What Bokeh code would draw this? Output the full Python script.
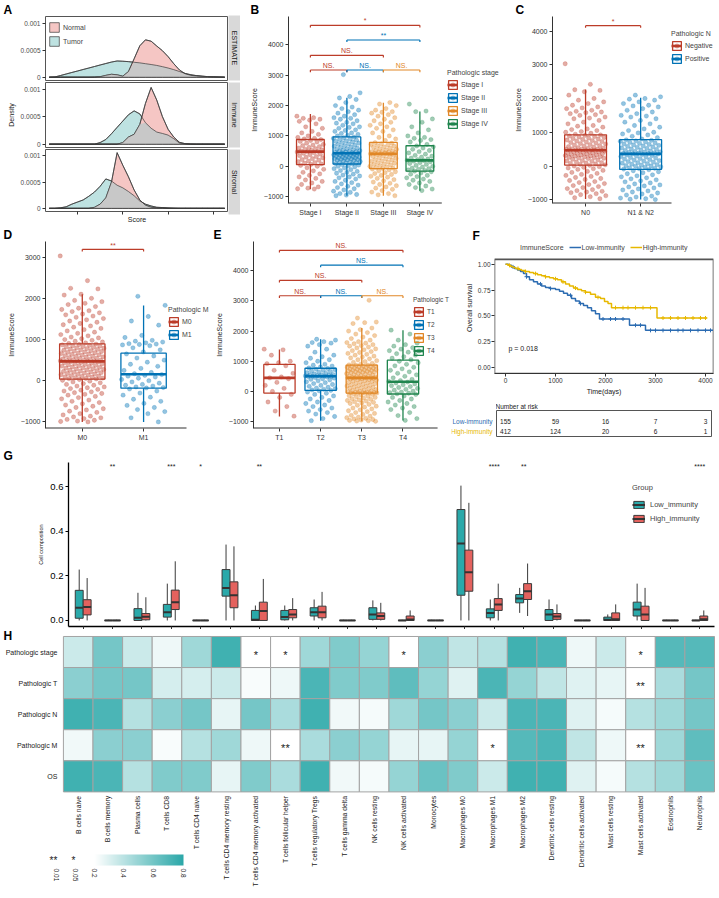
import math
import numpy as np
from bokeh.plotting import figure
from bokeh.models import (ColumnDataSource, Legend, LegendItem, LinearColorMapper, ColorBar,
                          FixedTicker, Range1d, FactorRange, NumeralTickFormatter, Title)
from bokeh.layouts import row, column
from bokeh.transform import dodge
from bokeh.core.properties import value
from bokeh.embed import file_html
from bokeh.resources import INLINE

# ======================= DATA =======================
# ---- A: density of scores (density given in units of 1e-4)
A_SCORE = [-3250, -3000, -2750, -2500, -2250, -2000, -1750, -1500, -1250, -1000, -750, -500,
           -250, 0, 250, 500, 750, 1000, 1250, 1500, 1750, 2000, 2250, 2500, 2750, 3000,
           3250, 3500, 3750, 4000, 4250, 4500]
A_FACETS = ["ESTIMATE", "Immune", "Stromal"]
A_EST_TUMOR = [0, 0.05, 0.32, 0.6, 0.88, 1.15, 1.43, 1.7, 1.98, 2.26, 2.53, 2.8, 3.0, 2.95, 2.88,
               2.76, 2.65, 2.5, 2.35, 2.18, 1.95, 1.7, 1.4, 1.06, 0.7, 0.47, 0.3, 0.18, 0.12, 0.06, 0.03, 0]
A_EST_NORMAL = [0, 0, 0, 0, 0, 0, 0, 0, 0.02, 0.1, 0.35, 0.55, 0.45, 0.2, 1.05, 3.4, 5.8, 6.9, 6.65,
                5.75, 4.9, 3.8, 2.5, 1.35, 0.65, 0.35, 0.24, 0.18, 0.12, 0.06, 0.03, 0]
A_IMM_TUMOR = [0, 0, 0, 0, 0, 0, 0, 0, 0, 0.3, 0.85, 1.9, 3.06, 4.2, 5.35, 6.05, 5.5, 3.9, 2.9, 2.2,
               1.95, 1.65, 1.0, 0.2, 0.05, 0, 0, 0, 0, 0, 0, 0]
A_IMM_NORMAL = [0, 0, 0, 0, 0, 0, 0, 0, 0, 0, 0, 0, 0, 0.3, 1.3, 1.8, 3.6, 7.4, 10.3, 8.0, 5.0, 2.7,
                1.3, 0.35, 0.1, 0.03, 0, 0, 0, 0, 0, 0]
A_STR_TUMOR = [0, 0, 0.1, 0.3, 0.8, 1.2, 1.6, 2.3, 3.1, 4.2, 5.6, 5.2, 4.4, 3.9, 3.2, 2.4, 1.4, 0.8,
               0.45, 0.2, 0.15, 0.08, 0.03, 0, 0, 0, 0, 0, 0, 0, 0, 0]
A_STR_NORMAL = [0, 0, 0, 0, 0, 0, 0, 0, 0.2, 0.8, 2.0, 5.0, 10.6, 8.2, 6.0, 3.5, 1.6, 0.6, 0.2, 0.1,
                0.05, 0, 0, 0, 0, 0, 0, 0, 0, 0, 0, 0]
A_XTICKS = [-2000, 0, 2000, 4000]

NEJM = ["#BC3C29", "#0072B5", "#E18727", "#20854E"]

# ---- B: ImmuneScore by pathologic stage
B_GROUPS = ["Stage I", "Stage II", "Stage III", "Stage IV"]
B_Q1 = [54, 75, -75, -161]
B_MED = [484, 430, 409, 194]
B_Q3 = [882, 968, 785, 677]
B_LO = [-753, -968, -968, -806]
B_HI = [1720, 2258, 2097, 1806]
B_PTS = [
    [1650, 1600, 1580, 1550, 1520, 1480, 1400, 1300, 1250, 1150, 1100, 1050, 1000, 950, 920, 900, 880,
     850, 820, 800, 760, 720, 700, 680, 650, 620, 600, 580, 560, 540, 520, 500, 490, 480, 470, 450, 430,
     400, 380, 350, 320, 300, 280, 250, 220, 200, 170, 150, 120, 100, 80, 60, 30, 0, -50, -100, -150,
     -200, -250, -300, -350, -400, -450, -500, -550, -600, -680, -720, -740, -750],
    [3020, 2420, 2300, 2250, 2200, 2100, 2000, 1950, 1900, 1850, 1800, 1750, 1700, 1650, 1600, 1580,
     1550, 1500, 1450, 1420, 1400, 1350, 1300, 1280, 1250, 1200, 1180, 1150, 1100, 1080, 1050, 1020, 1000,
     960, 940, 920, 900, 880, 860, 840, 820, 800, 780, 760, 740, 720, 700, 680, 660, 640, 620, 600, 580,
     560, 545, 530, 515, 500, 490, 480, 470, 460, 450, 440, 430,
     420, 410, 400, 390, 380, 370, 360, 350, 340, 330, 320, 310, 300, 290, 280, 270, 260, 250, 240, 230,
     220, 210, 200, 190, 180, 160, 140, 130, 120, 110, 90, 80,
     60, 40, 20, 0, -20, -50, -80, -110, -140, -170, -200, -230, -260, -290, -320, -350, -380, -420,
     -460, -500, -540, -580, -620, -660, -700, -740, -780, -820, -860, -900, -930, -950, -970],
    [2100, 2050, 2000, 1900, 1850, 1800, 1780, 1750, 1700, 1650, 1600, 1550, 1500, 1450, 1400, 1350,
     1300, 1250, 1200, 1150, 1100, 1000, 950, 900, 850,
     780, 760, 740, 720, 700, 680, 660, 640, 620, 600, 580, 560, 540, 520, 500, 490, 480, 470, 460, 450,
     440, 430, 420, 415, 410,
     400, 380, 360, 340, 320, 300, 280, 260, 240, 220, 200, 180, 160, 140, 120, 100, 80, 60, 40, 20, 0,
     -20, -40, -60, -70,
     -90, -120, -150, -180, -210, -240, -270, -300, -330, -360, -400, -440, -480, -520, -560, -600, -640,
     -680, -720, -760, -800, -850, -900, -940, -970],
    [2050, 1820, 1800, 1560, 1450, 1300, 1200, 1100, 1000, 950, 920, 880, 850, 800, 720,
     670, 640, 600, 560, 520, 480, 440, 400, 360, 330, 300, 270, 240, 220, 200,
     190, 170, 150, 120, 90, 60, 30, 0, -30, -60, -80, -100, -120, -140, -160,
     -180, -220, -260, -300, -340, -380, -420, -460, -500, -550, -600, -650, -700, -750, -800],
]
B_SIG_FROM = [1, 2, 1, 1, 2, 3]
B_SIG_TO = [4, 4, 3, 2, 3, 4]
B_SIG_Y = [4645, 4161, 3656, 3172, 3172, 3172]
B_SIG_LABEL = ["*", "**", "NS.", "NS.", "NS.", "NS."]
B_YTICKS = [-1000, 0, 1000, 2000, 3000, 4000]

# ---- C: ImmuneScore by pathologic N
C_GROUPS = ["N0", "N1 & N2"]
C_LEGEND = ["Negative", "Positive"]
C_Q1 = [29, -97]
C_MED = [467, 360]
C_Q3 = [925, 779]
C_LO = [-974, -993]
C_HI = [2269, 2025]
C_PTS = [
    [3030, 2420, 2260, 2240, 2200, 2100, 2000, 1950, 1900, 1850, 1800, 1750, 1720, 1700, 1650, 1620, 1600,
     1580, 1550, 1520, 1500, 1450, 1420, 1400, 1350, 1300, 1250, 1200, 1180, 1150, 1100, 1080, 1050, 1020,
     1000, 970, 940,
     920, 905, 890, 875, 860, 845, 830, 815, 800, 785, 770, 755, 740, 725, 710, 695, 680, 665, 650, 635,
     620, 605, 590, 575, 560, 545, 530, 520, 510, 500, 495, 490, 485, 480, 475, 470, 465,
     460, 450, 440, 430, 420, 410, 400, 390, 380, 370, 360, 350, 340, 330, 320, 310, 300, 290, 280, 270,
     260, 250, 240, 230, 220, 200, 180, 160, 150, 140, 120, 100, 90, 80, 60, 50, 35,
     20, 0, -20, -40, -60, -80, -100, -130, -160, -190, -220, -250, -280, -310, -340, -370, -400, -430,
     -460, -490, -520, -550, -580, -610, -640, -670, -700, -730, -750, -770, -790, -820, -850, -880,
     -910, -940, -970],
    [2100, 2050, 2000, 1980, 1950, 1900, 1850, 1800, 1780, 1750, 1700, 1650, 1600, 1550, 1500, 1480,
     1450, 1400, 1350, 1300, 1250, 1200, 1150, 1100, 1050, 1000, 980, 950, 920, 880, 840, 800,
     775, 760, 745, 730, 715, 700, 685, 670, 655, 640, 625, 610, 595, 580, 565, 550, 535, 520, 505, 490,
     475, 460, 445, 430, 420, 410, 400, 390, 380, 375, 370, 365,
     355, 340, 325, 310, 295, 280, 265, 250, 235, 220, 205, 190, 175, 160, 145, 130, 115, 100, 85, 70,
     55, 40, 25, 10, 0, -10, -25, -40, -55, -70, -80, -90,
     -110, -140, -170, -200, -230, -260, -290, -320, -350, -380, -410, -440, -470, -500, -530, -560,
     -590, -620, -650, -680, -710, -740, -770, -800, -830, -860, -890, -920, -950, -970, -985, -995],
]
C_SIG_FROM = [1]
C_SIG_TO = [2]
C_SIG_Y = [4158]
C_SIG_LABEL = ["*"]
C_YTICKS = [-1000, 0, 1000, 2000, 3000, 4000]

# ---- D: ImmuneScore by pathologic M
D_GROUPS = ["M0", "M1"]
D_Q1 = [40, -181]
D_MED = [470, 157]
D_Q3 = [895, 670]
D_LO = [-1000, -1000]
D_HI = [2102, 1827]
D_PTS = [
    [3030, 2430, 2245, 2230, 2100, 2080, 2000, 1950, 1920, 1880, 1850, 1800, 1760, 1730, 1700, 1680,
     1650, 1620, 1600, 1570, 1540, 1510, 1480, 1450, 1420, 1390, 1360, 1330, 1300, 1270, 1240, 1210,
     1180, 1150, 1120, 1090, 1060, 1040, 1020, 1000, 980, 960, 940, 920, 905,
     890, 880, 870, 860, 850, 840, 830, 820, 810, 800, 790, 780, 770, 760, 750, 740, 730, 720, 710, 700,
     690, 680, 670, 660, 650, 640, 630, 620, 610, 600, 590, 580, 570, 560, 550, 540, 530, 520, 510, 500,
     495, 490, 487, 484, 481,
     475, 465, 455, 445, 435, 425, 415, 405, 395, 385, 375, 365, 355, 345, 335, 325, 315, 305, 295, 285,
     275, 265, 255, 245, 235, 225, 215, 205, 195, 185, 175, 165, 155, 145, 135, 125, 115, 105, 95, 85,
     75, 65, 55, 50, 45,
     30, 10, -10, -30, -50, -70, -90, -110, -130, -150, -170, -190, -210, -230, -250, -270, -290, -310,
     -330, -350, -380, -410, -440, -470, -500, -530, -560, -590, -620, -650, -680, -710, -740, -770,
     -800, -830, -860, -880, -900, -920, -940, -960, -980, -990, -1000],
    [2050, 1830, 1560, 1450, 1350, 1100, 1050, 980, 960, 940, 920, 900, 890, 880, 870,
     850, 800, 750, 700, 650, 600, 550, 500, 450, 400, 350, 300, 250, 200, 170,
     150, 130, 110, 90, 60, 30, 0, -30, -60, -90, -110, -130, -150, -165, -175,
     -200, -250, -300, -350, -400, -450, -500, -550, -600, -650, -700, -750, -800, -900, -1000],
]
D_SIG_FROM = [1]
D_SIG_TO = [2]
D_SIG_Y = [3190]
D_SIG_LABEL = ["**"]
D_YTICKS = [-1000, 0, 1000, 2000, 3000]

# ---- E: ImmuneScore by pathologic T
E_GROUPS = ["T1", "T2", "T3", "T4"]
E_Q1 = [-53, 32, -53, -85]
E_MED = [448, 502, 448, 320]
E_Q3 = [896, 768, 875, 1035]
E_LO = [-830, -970, -990, -960]
E_HI = [1387, 1729, 2102, 2028]
E_PTS = [
    [1400, 1380, 1200, 1000, 950, 920, 850, 700, 600, 480, 450, 420, 300, 200, 100, 0, -100, -200, -350,
     -500, -650, -820],
    [1730, 1700, 1650, 1620, 1600, 1550, 1500, 1400, 1300, 1200, 1150, 1100, 1050, 1000, 950, 900, 870,
     840, 810, 780,
     760, 740, 720, 700, 680, 660, 640, 620, 600, 580, 560, 550, 540, 530, 520, 515, 510, 507, 504, 502,
     495, 480, 460, 440, 420, 400, 380, 350, 320, 290, 260, 230, 200, 170, 140, 110, 90, 70, 50, 35,
     20, -20, -60, -100, -150, -200, -250, -300, -350, -400, -450, -500, -550, -600, -650, -700, -750,
     -830, -900, -970],
    [3020, 2430, 2300, 2280, 2250, 2100, 2050, 2000, 1950, 1900, 1850, 1800, 1750, 1700, 1650, 1620,
     1600, 1580, 1550, 1520, 1500, 1470, 1440, 1410, 1380, 1350, 1320, 1290, 1260, 1230, 1200, 1170,
     1140, 1110, 1080, 1050, 1020, 990, 960, 930, 900, 880,
     870, 860, 850, 840, 830, 820, 810, 800, 790, 780, 770, 760, 750, 740, 730, 720, 710, 700, 690, 680,
     670, 660, 650, 640, 630, 620, 610, 600, 590, 575, 560, 545, 530, 515, 500, 490, 480, 470, 462, 456,
     452, 449,
     445, 435, 425, 415, 405, 395, 385, 375, 360, 345, 330, 315, 300, 285, 270, 255, 240, 225, 210, 195,
     180, 165, 150, 135, 120, 105, 90, 75, 60, 45, 30, 15, 0, -10, -20, -30, -35, -40, -45, -48, -50, -52,
     -60, -80, -100, -120, -140, -160, -180, -200, -220, -240, -260, -280, -300, -320, -340, -360, -380,
     -400, -430, -460, -490, -520, -550, -580, -610, -640, -670, -700, -730, -760, -790, -820, -850,
     -870, -890, -910, -930, -950, -960, -970, -980, -990],
    [2030, 1900, 1700, 1600, 1550, 1500, 1450, 1400, 1350, 1300, 1250, 1200, 1150, 1100, 1050,
     1000, 950, 900, 850, 800, 750, 700, 650, 600, 550, 500, 450, 400, 360, 330,
     310, 280, 250, 220, 190, 160, 130, 100, 70, 40, 10, -20, -40, -60, -80,
     -100, -150, -200, -250, -300, -350, -400, -450, -500, -550, -600, -700, -800, -900, -960],
]
E_SIG_FROM = [1, 2, 1, 1, 2, 3]
E_SIG_TO = [4, 4, 3, 2, 3, 4]
E_SIG_Y = [4675, 4184, 3682, 3170, 3170, 3170]
E_SIG_LABEL = ["NS.", "NS.", "NS.", "NS.", "NS.", "NS."]
E_YTICKS = [-1000, 0, 1000, 2000, 3000, 4000]

# ---- F: Kaplan-Meier
KM_GROUPS = ["Low-immunity", "High-immunity"]
KM_COLORS = ["#2C6CB2", "#E7B800"]
KM_LOW_T = [0, 60, 120, 180, 240, 300, 360, 420, 480, 560, 640, 720, 800, 900, 1000, 1080, 1160, 1240,
            1320, 1400, 1480, 1560, 1640, 1720, 1800, 1880, 2480, 2800]
KM_LOW_S = [1.0, 0.99, 0.975, 0.96, 0.945, 0.93, 0.91, 0.88, 0.85, 0.83, 0.81, 0.79, 0.775, 0.765,
            0.755, 0.74, 0.72, 0.70, 0.67, 0.645, 0.62, 0.60, 0.58, 0.55, 0.52, 0.47, 0.41, 0.36]
KM_LOW_END = 4150
KM_LOW_CENSOR = [150, 420, 700, 900, 1300, 1500, 1950, 2100, 2200, 2350, 2600, 2700, 2900, 3000, 3150,
                 3300, 3450, 3550, 3700, 3850, 4000, 4100]
KM_HIGH_T = [0, 50, 100, 150, 200, 260, 320, 400, 480, 560, 640, 720, 800, 880, 960, 1040, 1120, 1200,
             1280, 1360, 1440, 1520, 1600, 1700, 1800, 1900, 1980, 2050, 2120, 3030]
KM_HIGH_S = [1.0, 0.99, 0.98, 0.97, 0.96, 0.95, 0.94, 0.93, 0.92, 0.91, 0.90, 0.89, 0.88, 0.87, 0.86,
             0.85, 0.83, 0.81, 0.79, 0.77, 0.755, 0.745, 0.73, 0.71, 0.68, 0.67, 0.64, 0.62, 0.58, 0.48]
KM_HIGH_END = 4030
KM_HIGH_CENSOR = [80, 250, 400, 600, 800, 1000, 1150, 1400, 1600, 1850, 2200, 2350, 2450, 2600, 2750,
                  2900, 3150, 3300, 3450, 3600, 3750, 3900, 4000]
KM_PVALUE = "p = 0.018"
KM_X = (-220, 4160)
KM_Y = (-0.058, 1.048)
RISK_TIMES = [0, 1000, 2000, 3000, 4000]
RISK_LOW = [155, 59, 16, 7, 3]
RISK_HIGH = [412, 124, 20, 6, 1]

# ---- G: immune cell composition
CELLS = ["B cells naive", "B cells memory", "Plasma cells", "T cells CD8", "T cells CD4 naive",
         "T cells CD4 memory resting", "T cells CD4 memory activated", "T cells follicular helper",
         "T cells regulatory Tregs", "T cells gamma delta", "NK cells resting", "NK cells activated",
         "Monocytes", "Macrophages M0", "Macrophages M1", "Macrophages M2", "Dendritic cells resting",
         "Dendritic cells activated", "Mast cells resting", "Mast cells activated", "Eosinophils",
         "Neutrophils"]
G_LOW_LO = [0, 0, 0, 0, 0, 0, 0, 0, 0, 0, 0, 0, 0, 0, 0, 0.034, 0, 0, 0, 0, 0, 0]
G_LOW_Q1 = [0.01, 0, 0, 0.015, 0, 0.109, 0, 0.003, 0.02, 0, 0.005, 0, 0, 0.113, 0.012, 0.079, 0, 0, 0, 0.02, 0, 0]
G_LOW_MED = [0.057, 0, 0.012, 0.037, 0, 0.146, 0.003, 0.015, 0.037, 0, 0.027, 0, 0, 0.345, 0.034, 0.098, 0.027, 0, 0.003, 0.049, 0, 0]
G_LOW_Q3 = [0.135, 0.001, 0.053, 0.072, 0.001, 0.228, 0.045, 0.045, 0.057, 0.001, 0.057, 0.001, 0.001, 0.497, 0.052, 0.116, 0.049, 0.001, 0.015, 0.082, 0.001, 0.001]
G_LOW_HI = [0.228, 0.003, 0.124, 0.165, 0.003, 0.34, 0.067, 0.067, 0.094, 0.003, 0.09, 0.003, 0.003, 0.604, 0.094, 0.146, 0.094, 0.003, 0.027, 0.165, 0.003, 0.003]
G_HIGH_LO = [0, 0, 0, 0, 0, 0, 0, 0, 0, 0, 0, 0, 0, 0, 0, 0.02, 0, 0, 0, 0, 0, 0]
G_HIGH_Q1 = [0.025, 0, 0.003, 0.049, 0, 0.057, 0, 0.012, 0.012, 0, 0.005, 0, 0, 0.131, 0.045, 0.094, 0.005, 0, 0, 0, 0, 0]
G_HIGH_MED = [0.06, 0, 0.017, 0.082, 0, 0.113, 0.042, 0.027, 0.037, 0, 0.02, 0.004, 0, 0.216, 0.072, 0.131, 0.018, 0, 0.005, 0.027, 0, 0.005]
G_HIGH_Q3 = [0.093, 0.001, 0.031, 0.136, 0.001, 0.173, 0.082, 0.049, 0.064, 0.001, 0.034, 0.02, 0.001, 0.315, 0.098, 0.165, 0.031, 0.001, 0.034, 0.064, 0.001, 0.02]
G_HIGH_HI = [0.19, 0.003, 0.104, 0.265, 0.003, 0.332, 0.186, 0.1, 0.128, 0.003, 0.079, 0.045, 0.003, 0.527, 0.165, 0.255, 0.072, 0.003, 0.072, 0.146, 0.003, 0.045]
G_SIG = ["", "**", "", "***", "*", "", "**", "", "", "", "", "", "", "", "****", "**", "", "", "", "", "", "****"]
G_YTICKS = [0.0, 0.2, 0.4, 0.6]

# ---- H: heatmap of p-values
H_ROWS = ["Pathologic stage", "Pathologic T", "Pathologic N", "Pathologic M", "OS"]
H_VALUES = [
    [0.35, 0.59, 0.35, 0.25, 0.47, 0.74, 0.03, 0.04, 0.47, 0.56, 0.50, 0.04, 0.53, 0.38, 0.41, 0.74, 0.71, 0.25, 0.35, 0.02, 0.68, 0.68],
    [0.53, 0.59, 0.59, 0.32, 0.32, 0.35, 0.22, 0.25, 0.71, 0.56, 0.56, 0.65, 0.50, 0.29, 0.71, 0.50, 0.38, 0.29, 0.27, 0.007, 0.44, 0.59],
    [0.74, 0.71, 0.41, 0.53, 0.59, 0.27, 0.59, 0.44, 0.74, 0.24, 0.23, 0.47, 0.59, 0.53, 0.35, 0.71, 0.71, 0.29, 0.23, 0.41, 0.47, 0.59],
    [0.24, 0.53, 0.53, 0.22, 0.41, 0.47, 0.25, 0.006, 0.44, 0.53, 0.50, 0.27, 0.27, 0.50, 0.03, 0.68, 0.71, 0.38, 0.25, 0.008, 0.47, 0.65],
    [0.74, 0.71, 0.41, 0.56, 0.56, 0.27, 0.56, 0.44, 0.74, 0.24, 0.23, 0.50, 0.62, 0.56, 0.35, 0.74, 0.74, 0.29, 0.23, 0.41, 0.47, 0.62],
]
H_CB_TICKS = [0.2, 0.4, 0.6, 0.8]
H_STAR_KEYS = ["**", "*"]
H_STAR_LEVELS = ["0.01", "0.05"]

# ======================= LAYOUT HELPERS =======================
FONT = "Liberation Sans"
RW, RH, W, H = 719, 898, 718, 896


def sx(v):
    return int(round(v * W / RW))


def sy(v):
    return int(round(v * H / RH))


FRAMES = {}


def make_fig(box, frame, **kw):
    x0, y0, x1, y1 = box
    fx0, fy0, fx1, fy1 = frame
    p = figure(width=sx(x1) - sx(x0), height=sy(y1) - sy(y0),
               min_border_left=sx(fx0) - sx(x0), min_border_right=sx(x1) - sx(fx1),
               min_border_top=sy(fy0) - sy(y0), min_border_bottom=sy(y1) - sy(fy1),
               output_backend="svg", toolbar_location=None, frame_align=False, **kw)
    p.xgrid.visible = False
    p.ygrid.visible = False
    p.outline_line_color = None
    p.background_fill_color = "white"
    p.border_fill_color = "white"
    FRAMES[p.id] = frame
    return p


def fpos(p, rx, ry):
    fx0, fy0, fx1, fy1 = FRAMES[p.id]
    return (sx(rx) - sx(fx0), sy(fy1) - sy(ry))


def style_axes(p, tick_size="7px", label_size="7px", tick_color="#333333"):
    for ax in p.axis:
        ax.major_label_text_font = FONT
        ax.major_label_text_font_size = tick_size
        ax.major_label_text_color = tick_color
        ax.axis_label_text_font = FONT
        ax.axis_label_text_font_size = label_size
        ax.axis_label_text_font_style = "normal"
        ax.axis_label_text_color = "#1a1a1a"
        ax.minor_tick_line_color = None
        ax.major_tick_in = 0
        ax.major_tick_out = 3
        ax.major_label_standoff = 2
        ax.axis_label_standoff = 3
        ax.axis_line_color = "#333333"
        ax.major_tick_line_color = "#333333"


def hide_tick_labels(ax):
    ax.major_label_text_color = None
    ax.major_label_text_font_size = "1px"
    ax.major_label_standoff = 0


def legend_style(leg, size="7px", gw=12, gh=10):
    leg.label_text_font = FONT
    leg.label_text_font_size = size
    leg.title_text_font = FONT
    leg.title_text_font_size = size
    leg.title_text_font_style = "normal"
    leg.border_line_color = None
    leg.background_fill_alpha = 0
    leg.padding = 0
    leg.margin = 0
    leg.spacing = 2
    leg.glyph_width = gw
    leg.glyph_height = gh
    leg.label_height = gh
    leg.label_standoff = 3
    leg.title_standoff = 3


def letter(p, rx, t):
    fx0 = FRAMES[p.id][0]
    p.add_layout(Title(text=t, align="left", offset=sx(rx) - sx(fx0), text_font=FONT,
                       text_font_size="12px", text_font_style="bold", text_color="#000000",
                       standoff=0), "above")


def minus(t):
    return ("\u2212%d" % -t) if t < 0 else str(t)


# ======================= PANEL A =======================
NORMAL_FILL, TUMOR_FILL, OVER_FILL = "#F5C6C4", "#BEE2E1", "#C8C8C8"
A_BOX = [(0, 0, 228, 81), (0, 81, 228, 148), (0, 148, 228, 226)]
A_FRAME = [(45, 15, 228, 80), (45, 82, 228, 147), (45, 149, 228, 214)]
A_DENS = [(A_EST_NORMAL, A_EST_TUMOR), (A_IMM_NORMAL, A_IMM_TUMOR), (A_STR_NORMAL, A_STR_TUMOR)]
xs = np.array(A_SCORE, dtype=float)
polyx = np.concatenate([xs, xs[::-1]])
a_rows = []
for k, name in enumerate(A_FACETS):
    last = (k == 2)
    p = make_fig(A_BOX[k], A_FRAME[k], x_range=Range1d(-3413, 4667),
                 y_range=Range1d(-0.00006, 0.00112),
                 x_axis_location="below" if last else None)
    style_axes(p, tick_size="6.5px", tick_color="#4d4d4d")
    p.outline_line_color = "#555555"
    dn = np.array(A_DENS[k][0]) * 1e-4
    dt = np.array(A_DENS[k][1]) * 1e-4
    ov = np.minimum(dn, dt)
    zero = np.zeros_like(xs)
    rt = p.patch(polyx, np.concatenate([dt, zero]), fill_color=TUMOR_FILL, line_color="#3a3a3a",
                 line_width=0.7)
    rn = p.patch(polyx, np.concatenate([dn, zero]), fill_color=NORMAL_FILL, line_color="#3a3a3a",
                 line_width=0.7)
    p.patch(polyx, np.concatenate([ov, zero]), fill_color=OVER_FILL, line_color=None)
    p.line(xs, dt, line_color="#3a3a3a", line_width=0.7)
    p.line(xs, dn, line_color="#3a3a3a", line_width=0.7)
    p.line(xs, zero, line_color="#3a3a3a", line_width=0.7)
    p.yaxis.ticker = FixedTicker(ticks=[0, 0.0005, 0.001])
    p.yaxis.major_label_overrides = {0: "0", 0.0005: "0.0005", 0.001: "0.001"}
    p.yaxis.axis_line_color = None
    p.yaxis.axis_label = "Density" if k == 1 else ""
    if last:
        p.xaxis.ticker = FixedTicker(ticks=A_XTICKS)
        hide_tick_labels(p.xaxis[0])
        p.xaxis.axis_label_standoff = 1
        p.xaxis.axis_line_color = None
        p.xaxis.axis_label = "Score"
    if k == 0:
        leg = Legend(items=[LegendItem(label="Normal", renderers=[rn]),
                            LegendItem(label="Tumor", renderers=[rt])],
                     location=fpos(p, 48, 47))
        legend_style(leg, gw=12, gh=12)
        p.add_layout(leg)
        letter(p, 3, "A")
    fx0, fy0, fx1, fy1 = A_FRAME[k]
    bx0, by0, bx1, by1 = A_BOX[k]
    s = make_fig((228, by0, 240, by1), (228, fy0, 240, fy1), x_range=Range1d(0, 1),
                 y_range=Range1d(0, 1), x_axis_location=None, y_axis_location=None)
    s.background_fill_color = "#D9D9D9"
    s.text(x=[0.5], y=[0.5], text=[name], angle=-math.pi / 2, text_align="center",
           text_baseline="middle", text_font=value(FONT), text_font_size="7px", text_color="#1a1a1a")
    a_rows.append(row(p, s))
panel_a = column(*a_rows)


# ======================= BOX PANELS (B, C, D, E) =======================
def box_panel(box, frame, axis_end, xr, yr, yticks, groups, leg_labels, colors, q1, med, q3, lo, hi,
              pts, box_w, jit_w, sig, tip, leg_title, leg_pos, let, let_x, leg_size="7px"):
    # the frame is widened to the right so that the legend lies inside it;
    # the x axis line is drawn only up to axis_end (ref px), as in the original panel.
    fx0, fy0, fx1, fy1 = frame
    per_px = (xr[1] - xr[0]) / (axis_end - fx0)
    xr_ext = (xr[0], xr[1] + (fx1 - axis_end) * per_px)
    p = make_fig(box, frame, x_range=Range1d(*xr_ext), y_range=Range1d(*yr))
    style_axes(p)
    p.xaxis.axis_line_color = None
    p.segment(x0=[xr[0]], y0=[yr[0]], x1=[xr[1]], y1=[yr[0]], line_color="#333333", line_width=2)
    items = []
    for i, g in enumerate(groups):
        xc = i + 1
        c = colors[i]
        vals = pts[i]
        offs = [(((k * 0.6180339887 + 0.37 * i) % 1.0) - 0.5) * jit_w for k in range(len(vals))]
        p.segment(x0=[xc, xc], y0=[q3[i], q1[i]], x1=[xc, xc], y1=[hi[i], lo[i]], line_color=c,
                  line_width=1.3)
        br = p.vbar(x=[xc], top=[q3[i]], bottom=[q1[i]], width=box_w, fill_alpha=0, line_color=c,
                    line_width=1.3)
        mr = p.segment(x0=[xc - box_w / 2], y0=[med[i]], x1=[xc + box_w / 2], y1=[med[i]],
                       line_color=c, line_width=2.6)
        pr = p.scatter([xc + o for o in offs], vals, size=4.3, fill_color=c, fill_alpha=0.42,
                       line_color=c, line_alpha=0.42, line_width=0.5)
        items.append(LegendItem(label=leg_labels[i], renderers=[br, mr, pr]))
    frm, to, ys, labs = sig
    for a, b, yv, lab in zip(frm, to, ys, labs):
        c = colors[a - 1]
        p.segment(x0=[a, a, b], y0=[yv - tip, yv, yv - tip], x1=[a, b, b], y1=[yv, yv, yv],
                  line_color=c, line_width=1.2)
        p.text(x=[(a + b) / 2], y=[yv + tip * 0.4], text=[lab], text_color=c, text_font=value(FONT),
               text_font_size="7px", text_align="center", text_baseline="bottom")
    p.xaxis.ticker = FixedTicker(ticks=list(range(1, len(groups) + 1)))
    p.xaxis.major_label_overrides = {i + 1: g for i, g in enumerate(groups)}
    p.yaxis.ticker = FixedTicker(ticks=yticks)
    p.yaxis.major_label_overrides = {t: minus(t) for t in yticks}
    p.yaxis.axis_label = "ImmuneScore"
    leg = Legend(items=items, title=leg_title, location=fpos(p, *leg_pos))
    legend_style(leg, size=leg_size, gw=11, gh=11)
    p.add_layout(leg)
    letter(p, let_x, let)
    return p


panel_b = box_panel((240, 0, 500, 226), (288, 12, 500, 203), 442, (0.4, 4.6), (-1226, 4935), B_YTICKS,
                    B_GROUPS, B_GROUPS, NEJM, B_Q1, B_MED, B_Q3, B_LO, B_HI, B_PTS, 0.76, 0.74,
                    (B_SIG_FROM, B_SIG_TO, B_SIG_Y, B_SIG_LABEL), 70, "Pathologic stage",
                    (448, 129), "B", 250)
panel_c = box_panel((500, 0, 719, 226), (553, 14, 719, 203), 672, (0.4, 2.56), (-1111, 4430), C_YTICKS,
                    C_GROUPS, C_LEGEND, NEJM[:2], C_Q1, C_MED, C_Q3, C_LO, C_HI, C_PTS, 0.76, 0.74,
                    (C_SIG_FROM, C_SIG_TO, C_SIG_Y, C_SIG_LABEL), 60, "Pathologic N",
                    (672, 64), "C", 516)
panel_d = box_panel((0, 226, 210, 444), (45, 237, 210, 430), 186, (0.4, 2.7), (-1160, 3381), D_YTICKS,
                    D_GROUPS, D_GROUPS, NEJM[:2], D_Q1, D_MED, D_Q3, D_LO, D_HI, D_PTS, 0.74, 0.72,
                    (D_SIG_FROM, D_SIG_TO, D_SIG_Y, D_SIG_LABEL), 50, "Pathologic M",
                    (168, 342), "D", 3)
panel_e = box_panel((210, 226, 452, 444), (253, 237, 452, 430), 438, (0.37, 4.84), (-1228, 4968),
                    E_YTICKS, E_GROUPS, E_GROUPS, NEJM, E_Q1, E_MED, E_Q3, E_LO, E_HI, E_PTS, 0.76, 0.74,
                    (E_SIG_FROM, E_SIG_TO, E_SIG_Y, E_SIG_LABEL), 70, "Pathologic T",
                    (414, 358), "E", 213, leg_size="6.5px")

# ======================= PANEL F =======================
# the frame reaches up to hold the legend row; the plotting box is outlined separately
KM_FR = (495, 243, 714, 375)
KM_PLOT_TOP = 260
km_ytop = KM_Y[1] + (KM_PLOT_TOP - KM_FR[1]) * (KM_Y[1] - KM_Y[0]) / (KM_FR[3] - KM_PLOT_TOP)
km = make_fig((452, 226, 719, 398), KM_FR, x_range=Range1d(*KM_X), y_range=Range1d(KM_Y[0], km_ytop))
style_axes(km, tick_size="6.5px")
for ax in km.axis:
    ax.major_label_standoff = 1
    ax.axis_label_standoff = 2
km.yaxis.axis_line_color = None
km.quad(left=[KM_X[0]], right=[KM_X[1]], bottom=[KM_Y[0]], top=[KM_Y[1]], fill_color=None,
        line_color="#555555", line_width=1.6)
dummy = km.line([], [], line_alpha=0)
km_items = [LegendItem(label="ImmuneScore", renderers=[dummy])]
for name, t, s, end, cens, c in [
        (KM_GROUPS[0], KM_LOW_T, KM_LOW_S, KM_LOW_END, KM_LOW_CENSOR, KM_COLORS[0]),
        (KM_GROUPS[1], KM_HIGH_T, KM_HIGH_S, KM_HIGH_END, KM_HIGH_CENSOR, KM_COLORS[1])]:
    r = km.step(list(t) + [end], list(s) + [s[-1]], mode="after", line_color=c, line_width=1.5)
    tt = np.array(t)
    cs = [s[int(np.searchsorted(tt, ct, side="right")) - 1] for ct in cens]
    km.scatter(cens, cs, marker="cross", size=4, line_color=c, line_width=1)
    km_items.append(LegendItem(label=name, renderers=[r]))
km.xaxis.ticker = FixedTicker(ticks=RISK_TIMES)
km.yaxis.ticker = FixedTicker(ticks=[0, 0.25, 0.5, 0.75, 1.0])
km.yaxis.formatter = NumeralTickFormatter(format="0.00")
km.xaxis.axis_label = "Time(days)"
km.yaxis.axis_label = "Overall survival"
km.text(x=[60], y=[0.18], text=[KM_PVALUE], text_font=value(FONT), text_font_size="7px",
        text_color="#1a1a1a", text_baseline="middle")
kleg = Legend(items=km_items, orientation="horizontal", location=fpos(km, 508, 254))
legend_style(kleg, gw=12, gh=10)
kleg.spacing = 5
kleg.label_standoff = 1
km.add_layout(kleg)
letter(km, 473, "F")

risk_lab = make_fig((452, 398, 497, 444), (452, 411, 497, 437), x_range=Range1d(0, 1),
                    y_range=Range1d(-0.55, 2.05), x_axis_location=None, y_axis_location=None)
risk_lab.text(x=[1, 1], y=[1, 0], text=KM_GROUPS, text_color=KM_COLORS, x_offset=-4,
              text_font=value(FONT), text_font_size="6.5px", text_align="right", text_baseline="middle")
risk = make_fig((497, 398, 719, 444), (497, 411, 712, 437), x_range=Range1d(-180, 4120),
                y_range=Range1d(-0.55, 2.05), x_axis_location=None, y_axis_location=None)
risk.outline_line_color = "#555555"
risk.text(x=RISK_TIMES, y=[1] * len(RISK_TIMES), text=[str(v) for v in RISK_LOW],
          text_font=value(FONT), text_font_size="6.5px", text_align="center", text_baseline="middle",
          text_color="#1a1a1a")
risk.text(x=RISK_TIMES, y=[0] * len(RISK_TIMES), text=[str(v) for v in RISK_HIGH],
          text_font=value(FONT), text_font_size="6.5px", text_align="center", text_baseline="middle",
          text_color="#1a1a1a")
risk.add_layout(Title(text="Number at risk", align="left", offset=-1, text_font=FONT,
                      text_font_size="6.5px", text_font_style="normal", text_color="#1a1a1a",
                      standoff=2), "above")
panel_f = column(km, row(risk_lab, risk))

# ======================= PANEL G =======================
LOW_COL, HIGH_COL = "#2AA9AA", "#E4625E"
g = make_fig((0, 444, 719, 630), (68, 463, 715, 627), x_range=FactorRange(*CELLS),
             y_range=Range1d(-0.027, 0.7076))
style_axes(g)
g.yaxis.major_label_text_font_size = "9.5px"
g.yaxis.major_label_text_color = "#000000"
g.yaxis.axis_line_color = "#000000"
g.yaxis.axis_line_width = 1.3
g.yaxis.major_tick_line_color = "#000000"
g.yaxis.ticker = FixedTicker(ticks=G_YTICKS)
g.yaxis.formatter = NumeralTickFormatter(format="0.0")
g.yaxis.axis_label = "Cell composition"
g.yaxis.axis_label_text_font_size = "5.5px"
hide_tick_labels(g.xaxis[0])
g.xaxis.axis_line_color = "#000000"
g.xaxis.axis_line_width = 1.3
BW = 0.27
g_items = []
for grp, off, col, st in [("Low_immunity", -0.135, LOW_COL, (G_LOW_LO, G_LOW_Q1, G_LOW_MED, G_LOW_Q3, G_LOW_HI)),
                          ("High_immunity", 0.135, HIGH_COL, (G_HIGH_LO, G_HIGH_Q1, G_HIGH_MED, G_HIGH_Q3, G_HIGH_HI))]:
    src = ColumnDataSource(dict(cell=CELLS, lo=st[0], q1=st[1], med=st[2], q3=st[3], hi=st[4]))
    xc = dodge("cell", off, range=g.x_range)
    g.segment(x0=xc, y0="q3", x1=xc, y1="hi", source=src, line_color="#3a3a3a", line_width=1)
    g.segment(x0=xc, y0="q1", x1=xc, y1="lo", source=src, line_color="#3a3a3a", line_width=1)
    br = g.vbar(x=xc, top="q3", bottom="q1", width=BW, source=src, fill_color=col,
                line_color="#3a3a3a", line_width=1)
    mr = g.segment(x0=dodge("cell", off - BW / 2, range=g.x_range), y0="med",
                   x1=dodge("cell", off + BW / 2, range=g.x_range), y1="med", source=src,
                   line_color="#333333", line_width=2)
    g_items.append(LegendItem(label=grp, renderers=[br, mr]))
g.text(x=CELLS, y=[0.69] * len(CELLS), text=G_SIG, text_font=value(FONT), text_font_size="7px",
       text_align="center", text_baseline="middle", text_color="#1a1a1a")
gleg = Legend(items=g_items, title="Group", location=fpos(g, 633, 524))
legend_style(gleg, size="7.5px", gw=13, gh=9)
gleg.spacing = 5
gleg.title_standoff = 8
gleg.label_standoff = 5
g.add_layout(gleg)
letter(g, 3, "G")

# ======================= PANEL H =======================
def lerp(c0, c1, t):
    a = [int(c0[i:i + 2], 16) for i in (1, 3, 5)]
    b = [int(c1[i:i + 2], 16) for i in (1, 3, 5)]
    return "#%02x%02x%02x" % tuple(int(round(a[j] + (b[j] - a[j]) * t)) for j in range(3))


PALETTE = [lerp("#FFFFFF", "#2BA8A9", i / 255) for i in range(256)]
mapper = LinearColorMapper(palette=PALETTE, low=0.2, high=0.8)

# heatmap cell block in reference pixels (the whole figure is one frame; cells are unit squares)
HX0, HX1, HY0, HY1 = 63, 715, 637, 793
NC, NR = len(CELLS), len(H_ROWS)
CW, RHT = (HX1 - HX0) / NC, (HY1 - HY0) / NR


def hx(rx):
    return (rx - HX0) / CW


def hy(ry):
    return (HY1 - ry) / RHT


h = make_fig((0, 630, 719, 898), (0, 630, 719, 898), x_range=Range1d(hx(0), hx(719)),
             y_range=Range1d(hy(898), hy(630)), x_axis_location=None, y_axis_location=None)
cx, cy, cv, cs_ = [], [], [], []
for ri, rname in enumerate(H_ROWS):
    for ci, cname in enumerate(CELLS):
        v = H_VALUES[ri][ci]
        cx.append(ci + 0.5)
        cy.append(NR - ri - 0.5)
        cv.append(v)
        cs_.append("**" if v < 0.01 else ("*" if v < 0.05 else ""))
hsrc = ColumnDataSource(dict(x=cx, y=cy, val=cv, star=cs_))
h.rect(x="x", y="y", width=1, height=1, source=hsrc,
       fill_color={"field": "val", "transform": mapper}, line_color="#A3A3A3", line_width=1)
h.text(x="x", y="y", text="star", source=hsrc, text_font=value(FONT), text_font_size="11px",
       text_align="center", text_baseline="middle", y_offset=3, text_color="#1a1a1a")
# row labels and column labels
h.text(x=[hx(57)] * NR, y=[NR - ri - 0.5 for ri in range(NR)], text=H_ROWS, text_font=value(FONT),
       text_font_size="7px", text_align="right", text_baseline="middle", text_color="#1a1a1a")
h.text(x=[ci + 0.5 for ci in range(NC)], y=[hy(797)] * NC, text=CELLS, angle=math.pi / 2,
       text_font=value(FONT), text_font_size="6.8px", text_align="right", text_baseline="middle",
       text_color="#1a1a1a")
# colour bar
cb = ColorBar(color_mapper=mapper, orientation="horizontal", location=fpos(h, 94, 867),
              width=sx(183) - sx(94), height=sy(867) - sy(856), padding=0, margin=0,
              major_label_text_font_size="1px", major_label_text_color=None,
              major_tick_line_color=None, bar_line_color=None, border_line_color=None,
              background_fill_alpha=0, label_standoff=0, ticker=FixedTicker(ticks=H_CB_TICKS))
h.add_layout(cb)
cb_x = [hx(94 + (t - 0.2) / 0.6 * (183 - 94)) for t in H_CB_TICKS]
h.text(x=cb_x, y=[hy(870)] * len(H_CB_TICKS), text=["%.1f" % t for t in H_CB_TICKS],
       angle=-math.pi / 2, text_font=value(FONT), text_font_size="6.5px", text_align="left",
       text_baseline="middle", text_color="#1a1a1a")
h.text(x=[hx(53), hx(73)], y=[hy(862)] * 2, text=H_STAR_KEYS, text_font=value(FONT),
       text_font_size="10px", text_align="center", text_baseline="middle", text_color="#1a1a1a")
h.text(x=[hx(56), hx(75)], y=[hy(870)] * 2, text=H_STAR_LEVELS, angle=-math.pi / 2,
       text_font=value(FONT), text_font_size="6.5px", text_align="left", text_baseline="middle",
       text_color="#1a1a1a")
h.text(x=[hx(3)], y=[hy(637)], text=["H"], text_font=value(FONT), text_font_size="12px",
       text_font_style="bold", text_align="left", text_baseline="middle", text_color="#000000")

# ======================= ASSEMBLE =======================
layout = column(row(panel_a, panel_b, panel_c), row(panel_d, panel_e, panel_f), g, h)
open("out.html", "w").write(file_html(layout, INLINE))
